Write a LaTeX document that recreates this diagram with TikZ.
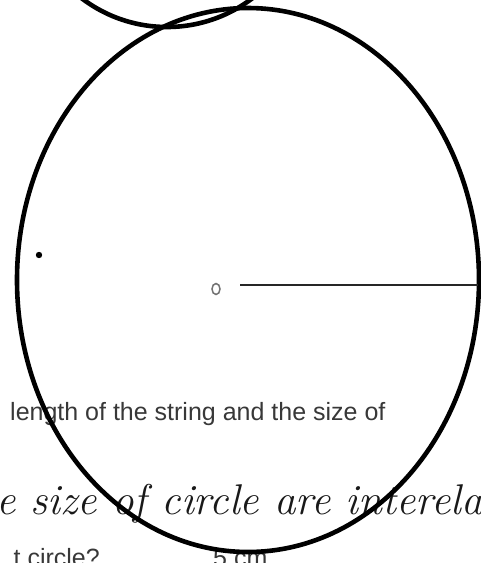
\documentclass[tikz,border=0pt]{standalone}
\usepackage{fontspec}
\setmainfont{Latin Modern Roman}
\newfontfamily\printfont{Liberation Sans}
\usetikzlibrary{positioning,shapes.geometric}

\begin{document}
\begin{tikzpicture}[
  x=1pt, y=-1pt,
  outline/.style={draw=black, line width=4.6pt},
  radius line/.style={draw=black!85, line width=2.2pt},
  printed/.style={font=\printfont\fontsize{25}{25}\selectfont, text=black!78, inner sep=0pt},
  handwritten/.style={font=\itshape\fontsize{43}{43}\selectfont, text=black!90, inner sep=0pt},
]
\useasboundingbox (0,0) rectangle (481,563);
\clip (0,0) rectangle (481,563);
% printed text of the page
\node[printed, anchor=base west] (question) at (10,420) {length of the string and the size of};
\node[printed, anchor=base east] (askcircle) at (100,566) {t circle?};
\node[printed, anchor=base west] (answer) at (213,566) {5 cm};
% handwritten answer
\node[handwritten, anchor=base west] (reply) at (-4,514) {e size of circle are interela};
% circles
\draw[outline] (167,-114) circle[radius=141];
\draw[outline] (248,280) ellipse[x radius=231, y radius=272];
% centre and radius
\node[draw=black!55, line width=1.5pt, ellipse, minimum width=8pt, minimum height=11pt, inner sep=0pt] (centre) at (216,289) {};
\fill (39,255) circle[radius=3.2] coordinate (mark);
\coordinate (lstart) at (240,285);
\coordinate (rim) at (478,285);
\draw[radius line] (lstart) -- (rim);
\end{tikzpicture}
\end{document}
